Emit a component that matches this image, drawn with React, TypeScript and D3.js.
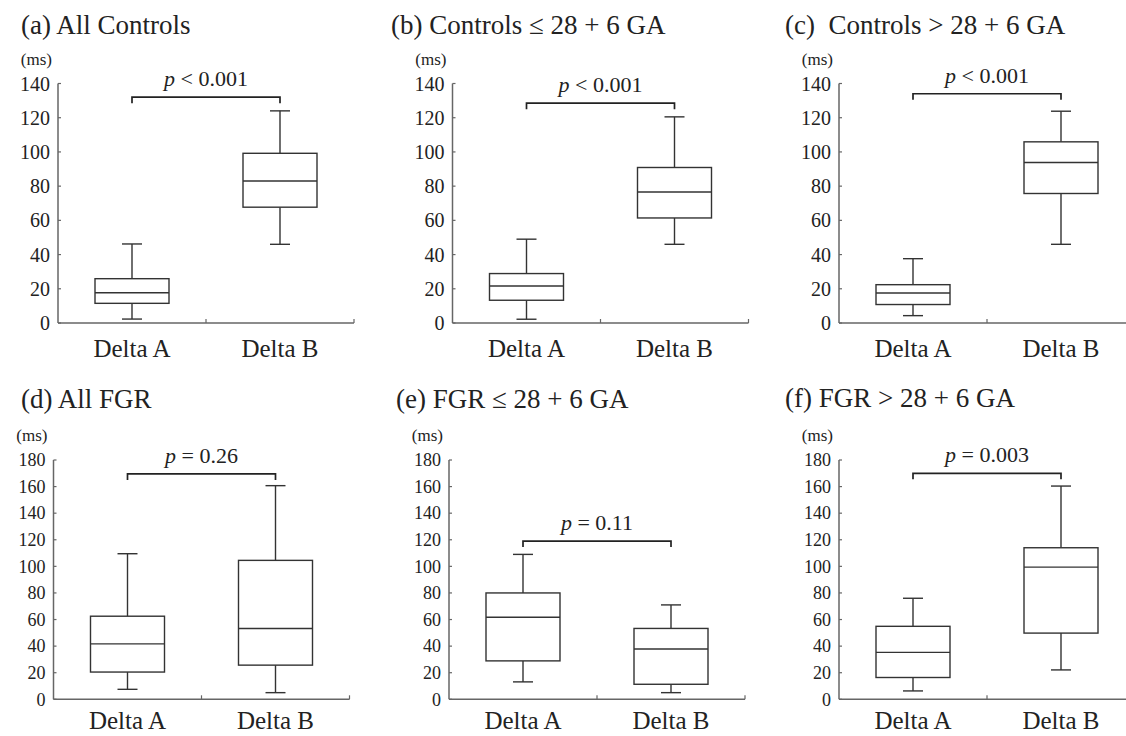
import React from "react";
import * as d3 from "d3";

// ---------- data ----------
const groups = ["Delta A", "Delta B"];
const panelTitles = [
  "(a) All Controls",
  "(b) Controls ≤ 28 + 6 GA",
  "(c)  Controls > 28 + 6 GA",
  "(d) All FGR",
  "(e) FGR ≤ 28 + 6 GA",
  "(f) FGR > 28 + 6 GA",
];
const yMax = [140, 140, 140, 180, 180, 180];
const yTickStep = [20, 20, 20, 20, 20, 20];
// [min, q1, median, q3, max]
const deltaA = [
  [2.3, 11.5, 17.7, 25.9, 46.2],
  [2.2, 13.3, 21.6, 28.9, 49],
  [4.3, 10.8, 17.5, 22.4, 37.6],
  [7.5, 20.5, 41.7, 62.5, 109.5],
  [13.1, 28.9, 61.7, 80, 109],
  [6.3, 16.4, 35.3, 54.9, 76],
];
const deltaB = [
  [46, 67.7, 83, 99.2, 124],
  [46, 61.4, 76.6, 90.9, 120.5],
  [46, 75.7, 93.8, 105.9, 123.8],
  [5, 25.7, 53.2, 104.5, 160.7],
  [5, 11.3, 37.8, 53.3, 71],
  [22.1, 49.8, 99.4, 114, 160.4],
];
const pLabels = ["< 0.001", "< 0.001", "< 0.001", "= 0.26", "= 0.11", "= 0.003"];
const bracketLevel = [132, 128.5, 134, 169.5, 119, 170];
const unitLabel = "(ms)";

// ---------- layout ----------
const W = 1126;
const H = 736;
const layout = [
  { ax: 58, top: 83.5, bottom: 323, titleX: 21, titleY: 34, tick: 20 },
  { ax: 452.5, top: 83.5, bottom: 323, titleX: 391, titleY: 34, tick: 20 },
  { ax: 839, top: 83.5, bottom: 323, titleX: 785, titleY: 34, tick: 20 },
  { ax: 53.5, top: 460, bottom: 699.3, titleX: 21, titleY: 408, tick: 18 },
  { ax: 449, top: 460, bottom: 699.3, titleX: 396, titleY: 408, tick: 18 },
  { ax: 839, top: 460, bottom: 699.3, titleX: 785, titleY: 407, tick: 18 },
];
const AXIS_LEN = 296;
const FONT = "'Liberation Serif', 'DejaVu Serif', 'Times New Roman', serif";
const TEXT = "#222";
const AXIS = "#666";
const LINE = "#333";

function Panel({ i }: { i: number }) {
  const L = layout[i];
  const y = d3.scaleLinear().domain([0, yMax[i]]).range([L.bottom, L.top]);
  const x = d3.scaleBand<string>().domain(groups).range([L.ax, L.ax + AXIS_LEN]);
  const bw = x.bandwidth() / 2;
  const capW = 20;
  const ticks = d3.range(0, yMax[i] + 0.001, yTickStep[i]);
  const stats = [deltaA[i], deltaB[i]];
  const cA = (x(groups[0]) as number) + x.bandwidth() / 2;
  const cB = (x(groups[1]) as number) + x.bandwidth() / 2;
  const by = y(bracketLevel[i]);
  const labelY = Math.min(L.bottom + 34, H - 7);

  return (
    <g>
      <text
        x={L.titleX}
        y={L.titleY}
        fontSize={27}
        fill={TEXT}
        style={{ whiteSpace: "pre", fontFamily: FONT }}
      >
        {panelTitles[i]}
      </text>
      <text x={L.ax - 6} y={L.top - 19} fontSize={17} textAnchor="end" fill={TEXT} style={{ fontFamily: FONT }}>
        {unitLabel}
      </text>
      {/* axes */}
      <line x1={L.ax} x2={L.ax} y1={L.top} y2={L.bottom} stroke={AXIS} strokeWidth={1.5} />
      <line x1={L.ax} x2={L.ax + AXIS_LEN} y1={L.bottom} y2={L.bottom} stroke={AXIS} strokeWidth={1.5} />
      {ticks.map((t) => (
        <g key={t}>
          <line x1={L.ax} x2={L.ax + 3} y1={y(t)} y2={y(t)} stroke={AXIS} strokeWidth={1.2} />
          <text
            x={L.ax - 8}
            y={y(t)}
            dy="0.35em"
            textAnchor="end"
            fontSize={L.tick}
            fill={TEXT}
            style={{ fontFamily: FONT }}
          >
            {t}
          </text>
        </g>
      ))}
      {groups.map((g) => {
        const xe = (x(g) as number) + x.bandwidth();
        return (
          <line key={"xt" + g} x1={xe} x2={xe} y1={L.bottom} y2={L.bottom - 4} stroke={AXIS} strokeWidth={1.2} />
        );
      })}
      {groups.map((g) => (
        <text
          key={"xl" + g}
          x={(x(g) as number) + x.bandwidth() / 2}
          y={labelY}
          textAnchor="middle"
          fontSize={25}
          fill={TEXT}
          style={{ fontFamily: FONT }}
        >
          {g}
        </text>
      ))}
      {/* boxes */}
      {groups.map((g, k) => {
        const [mn, q1, md, q3, mx] = stats[k];
        const cx = (x(g) as number) + x.bandwidth() / 2;
        return (
          <g key={"b" + g} stroke={LINE} strokeWidth={1.4} fill="none">
            <line x1={cx} x2={cx} y1={y(mx)} y2={y(q3)} />
            <line x1={cx} x2={cx} y1={y(q1)} y2={y(mn)} />
            <line x1={cx - capW / 2} x2={cx + capW / 2} y1={y(mx)} y2={y(mx)} />
            <line x1={cx - capW / 2} x2={cx + capW / 2} y1={y(mn)} y2={y(mn)} />
            <rect x={cx - bw / 2} y={y(q3)} width={bw} height={y(q1) - y(q3)} fill="white" />
            <line x1={cx - bw / 2} x2={cx + bw / 2} y1={y(md)} y2={y(md)} />
          </g>
        );
      })}
      {/* bracket */}
      <path
        d={`M${cA},${by + 6}V${by}H${cB}V${by + 6}`}
        fill="none"
        stroke="#222"
        strokeWidth={1.7}
      />
      <text x={(cA + cB) / 2} y={by - 11} textAnchor="middle" fontSize={22} fill={TEXT} style={{ fontFamily: FONT }}>
        <tspan fontStyle="italic">p</tspan>
        {" " + pLabels[i]}
      </text>
    </g>
  );
}

export default function App() {
  return (
    <svg
      width={W}
      height={H}
      viewBox={`0 0 ${W} ${H}`}
      style={{ position: "absolute", left: 0, top: 0, background: "white" }}
    >
      <rect width={W} height={H} fill="white" />
      {panelTitles.map((_, i) => (
        <Panel key={i} i={i} />
      ))}
    </svg>
  );
}
